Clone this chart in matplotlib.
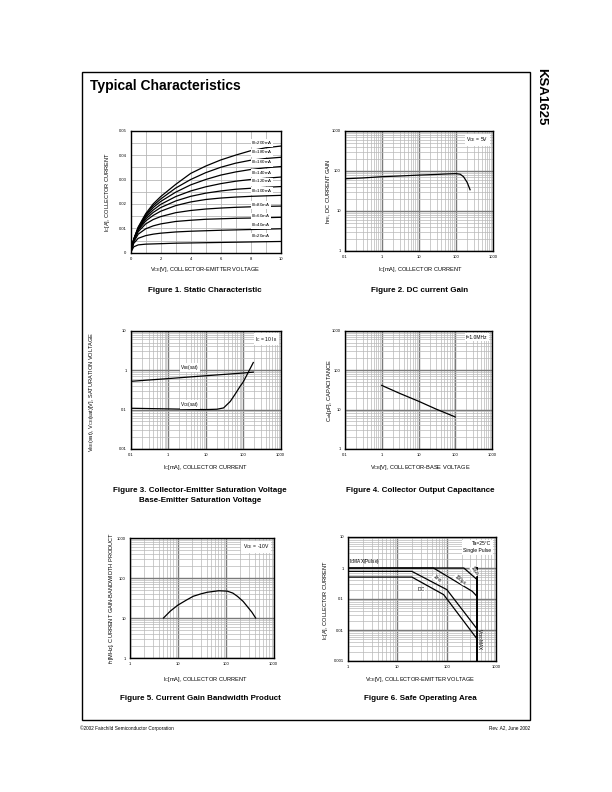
import numpy as np
import matplotlib
matplotlib.use('Agg')
import matplotlib.pyplot as plt
from matplotlib.ticker import FixedLocator, FixedFormatter, LogLocator, NullFormatter

plt.rcParams['font.family'] = ['Liberation Sans', 'DejaVu Sans']
plt.rcParams['mathtext.fontset'] = 'custom'
plt.rcParams['mathtext.rm'] = 'Liberation Sans'
plt.rcParams['mathtext.it'] = 'Liberation Sans'
plt.rcParams['mathtext.bf'] = 'Liberation Sans:bold'

# ---------------- data ----------------
# Figure 1: static characteristic (VCE [V] vs IC [mA]) per base current
vce_pts = [0, 0.2, 0.5, 1, 1.5, 2, 3, 4, 5, 6, 7, 8, 9, 10]
ib_labels = ['200', '180', '160', '140', '120', '100', '80', '60', '40', '20']
ic_200 = [0, 5.5, 10.5, 16, 20, 23, 28, 32.5, 35.5, 38, 40, 41.8, 43, 43.7]
ic_180 = [0, 5.5, 10.3, 15.5, 19.3, 22, 26.5, 30, 32.8, 35, 36.7, 37.9, 38.6, 39.1]
ic_160 = [0, 5.4, 10, 15, 18.5, 21, 24.8, 27.8, 30, 31.8, 33.1, 34.1, 34.8, 35.3]
ic_140 = [0, 5.3, 9.8, 14.5, 17.5, 19.8, 23, 25.3, 27, 28.3, 29.3, 30, 30.5, 31]
ic_120 = [0, 5.2, 9.5, 13.8, 16.5, 18.5, 21.2, 23.1, 24.4, 25.3, 26, 26.4, 26.8, 27.1]
ic_100 = [0, 5.0, 9.2, 13, 15.3, 17, 19.3, 20.8, 21.8, 22.4, 22.8, 23.1, 23.3, 23.5]
ic_80 = [0, 4.8, 8.6, 11.8, 13.6, 14.8, 16.4, 17.3, 17.9, 18.3, 18.6, 18.8, 19.0, 19.1]
ic_60 = [0, 4.4, 7.6, 9.8, 11.0, 11.8, 12.8, 13.3, 13.7, 13.9, 14.1, 14.2, 14.35, 14.5]
ic_40 = [0, 3.8, 5.9, 7.0, 7.6, 8.0, 8.5, 8.8, 9.0, 9.2, 9.35, 9.5, 9.65, 9.8]
ic_20 = [0, 2.4, 3.2, 3.5, 3.6, 3.7, 3.9, 4.0, 4.1, 4.2, 4.3, 4.4, 4.5, 4.6]
ib_label_y = [44.8, 41.0, 36.9, 32.5, 29.1, 25.3, 19.5, 14.8, 11.3, 6.6]

# Figure 2: DC current gain
hfe_ic = [0.1, 0.3, 1, 3, 10, 30, 50, 100, 130, 160, 200, 240]
hfe = [64, 67, 72, 75, 79, 82, 84, 86, 83, 72, 52, 34]

# Figure 3: saturation voltages
vbe_ic = [0.1, 1, 10, 100, 186]
vbe_sat = [0.52, 0.61, 0.72, 0.845, 0.89]
vce_ic = [0.1, 0.3, 1, 3, 10, 20, 30, 45, 60, 83, 100, 126, 150, 186]
vce_sat = [0.108, 0.106, 0.104, 0.102, 0.100, 0.102, 0.11, 0.16, 0.24, 0.39, 0.5, 0.76, 1.05, 1.56]

# Figure 4: output capacitance
cob_v = [1, 3, 10, 30, 100]
cob = [41, 26, 16.3, 10.3, 6.5]

# Figure 5: gain-bandwidth product
ft_ic = [5, 7, 10, 15, 21, 30, 41, 71, 107, 140, 174, 230, 280, 350, 420]
ft = [10, 15, 21, 28, 35, 40, 44, 48, 47, 42, 35, 26, 19.5, 14, 10]

# Figure 6: safe operating area
soa_10us_v = [1, 223, 415]
soa_10us_i = [1, 1, 0.42]
soa_100us_v = [1, 54, 330, 415]
soa_100us_i = [1, 1, 0.177, 0.12]
soa_1ms_v = [1, 19.7, 101, 415]
soa_1ms_i = [0.78, 0.78, 0.2, 0.0107]
soa_dc_v = [1, 19.7, 87, 415]
soa_dc_i = [0.51, 0.51, 0.138, 0.0051]
vceo_max = 415

log_dec_ticks = [0.1, 1, 10, 100, 1000]
log_dec_labels = ['0.1', '1', '10', '100', '1000']

# ---------------- layout ----------------
W, H = 612, 792
fig = plt.figure(figsize=(6.12, 7.92), dpi=100)


def px_axes(l, t, r, b):
    return fig.add_axes([l / W, 1 - b / H, (r - l) / W, (b - t) / H])


def ftext(x, y, s, **kw):
    fig.text(x / W, 1 - y / H, s, **kw)


TICK_FS = 3.0
LAB_FS = 4.1
CAP_FS = 5.8
MAJ = '#7a7a7a'
MIN = '#b8b8b8'


def style_log(ax, xlim, ylim, xt, xl, yt, yl):
    ax.set_xscale('log')
    ax.set_yscale('log')
    ax.set_xlim(*xlim)
    ax.set_ylim(*ylim)
    ax.xaxis.set_major_locator(FixedLocator(xt))
    ax.xaxis.set_major_formatter(FixedFormatter(xl))
    ax.yaxis.set_major_locator(FixedLocator(yt))
    ax.yaxis.set_major_formatter(FixedFormatter(yl))
    ax.xaxis.set_minor_locator(LogLocator(base=10, subs=range(2, 10), numticks=20))
    ax.yaxis.set_minor_locator(LogLocator(base=10, subs=range(2, 10), numticks=20))
    ax.xaxis.set_minor_formatter(NullFormatter())
    ax.yaxis.set_minor_formatter(NullFormatter())
    ax.grid(which='major', color=MAJ, lw=1.0)
    ax.grid(which='minor', color=MIN, lw=0.5)
    ax.tick_params(which='both', length=0, labelsize=TICK_FS, pad=3)
    for s in ax.spines.values():
        s.set_linewidth(1.0)
        s.set_color('black')
    ax.set_axisbelow(True)


# page frame
fig.patches.append(plt.Rectangle((82 / W, 1 - 720 / H), (530 - 82) / W, (720 - 72) / H,
                                 transform=fig.transFigure, fill=False, lw=1.0, ec='black'))
ftext(90, 86, 'Typical Characteristics', fontsize=10, fontweight='bold', va='center', ha='left')
ftext(541, 68, 'KSA1625', fontsize=9.5, fontweight='bold', rotation=-90, va='top', ha='center')
ftext(80, 728, '\u00a92002 Fairchild Semiconductor Corporation', fontsize=3.4, va='center', ha='left')
ftext(530, 728, 'Rev. A2, June 2002', fontsize=3.4, va='center', ha='right')

# ---- Figure 1 ----
ax1 = px_axes(130.7, 130.7, 280.7, 252.7)
curves = [ic_200, ic_180, ic_160, ic_140, ic_120, ic_100, ic_80, ic_60, ic_40, ic_20]
for ic in curves:
    ax1.plot(vce_pts, np.array(ic) / 1000.0, color='black', lw=0.9)
for lab, ly in zip(ib_labels, ib_label_y):
    ax1.text(8.05, ly / 1000.0, 'I$_B$=' + lab + 'mA', fontsize=3.2, va='center', ha='left',
             bbox=dict(boxstyle='square,pad=0.05', fc='white', ec='none'))
ax1.set_xlim(0, 10)
ax1.set_ylim(0, 0.05)
ax1.xaxis.set_major_locator(FixedLocator([0, 2, 4, 6, 8, 10]))
ax1.xaxis.set_major_formatter(FixedFormatter(['0', '2', '4', '6', '8', '10']))
ax1.yaxis.set_major_locator(FixedLocator([0, 0.01, 0.02, 0.03, 0.04, 0.05]))
ax1.yaxis.set_major_formatter(FixedFormatter(['0', '0.01', '0.02', '0.03', '0.04', '0.05']))
ax1.xaxis.set_minor_locator(FixedLocator([1, 3, 5, 7, 9]))
ax1.yaxis.set_minor_locator(FixedLocator([0.005, 0.015, 0.025, 0.035, 0.045]))
ax1.grid(which='both', color=MIN, lw=0.6)
ax1.tick_params(which='both', length=0, labelsize=TICK_FS, pad=3)
for s in ax1.spines.values():
    s.set_linewidth(1.0)
ax1.set_axisbelow(True)
ftext(205, 270, 'V$_{CE}$[V], COLLECTOR-EMITTER VOLTAGE', fontsize=LAB_FS, ha='center', va='center')
ftext(108, 192, 'I$_C$[A], COLLECTOR CURRENT', fontsize=LAB_FS, ha='center', va='center', rotation=90)
ftext(205, 291, 'Figure 1. Static Characteristic', fontsize=CAP_FS, fontweight='bold', ha='center', va='center')

# ---- Figure 2 ----
ax2 = px_axes(345, 131, 493, 251)
style_log(ax2, (0.1, 1000), (1, 1000), log_dec_ticks, log_dec_labels,
          [1, 10, 100, 1000], ['1', '10', '100', '1000'])
ax2.plot(hfe_ic, hfe, color='black', lw=0.9)
ax2.text(0.97, 0.965, 'V$_{CE}$ = 5V', transform=ax2.transAxes, fontsize=3.6, ha='right', va='top',
         bbox=dict(boxstyle='square,pad=0.3', fc='white', ec='none'))
ftext(420, 270, 'I$_C$[mA], COLLECTOR CURRENT', fontsize=LAB_FS, ha='center', va='center')
ftext(329, 191, 'h$_{FE}$, DC CURRENT GAIN', fontsize=LAB_FS, ha='center', va='center', rotation=90)
ftext(420, 291, 'Figure 2. DC current Gain', fontsize=CAP_FS, fontweight='bold', ha='center', va='center')

# ---- Figure 3 ----
ax3 = px_axes(130.7, 330.7, 280.7, 449)
style_log(ax3, (0.1, 1000), (0.01, 10), log_dec_ticks, log_dec_labels,
          [0.01, 0.1, 1, 10], ['0.01', '0.1', '1', '10'])
ax3.plot(vbe_ic, vbe_sat, color='black', lw=0.9)
ax3.plot(vce_ic, vce_sat, color='black', lw=0.9)
ax3.text(3.8, 0.9, 'V$_{BE}$(sat)', fontsize=3.4, ha='center', va='bottom',
         bbox=dict(boxstyle='square,pad=0.05', fc='white', ec='none'))
ax3.text(3.8, 0.104, 'V$_{CE}$(sat)', fontsize=3.4, ha='center', va='bottom',
         bbox=dict(boxstyle='square,pad=0.05', fc='white', ec='none'))
ax3.text(0.98, 0.965, 'I$_C$ = 10 I$_B$', transform=ax3.transAxes, fontsize=3.6, ha='right', va='top',
         bbox=dict(boxstyle='square,pad=0.3', fc='white', ec='none'))
ftext(205, 468, 'I$_C$[mA], COLLECTOR CURRENT', fontsize=LAB_FS, ha='center', va='center')
ftext(92, 392, 'V$_{BE}$(sat), V$_{CE}$(sat)[V], SATURATION VOLTAGE', fontsize=LAB_FS, ha='center',
      va='center', rotation=90)
ftext(200, 491, 'Figure 3. Collector-Emitter Saturation Voltage', fontsize=CAP_FS, fontweight='bold',
      ha='center', va='center')
ftext(200, 501, 'Base-Emitter Saturation Voltage', fontsize=CAP_FS, fontweight='bold', ha='center', va='center')

# ---- Figure 4 ----
ax4 = px_axes(345, 330.7, 492, 449)
style_log(ax4, (0.1, 1000), (1, 1000), log_dec_ticks, log_dec_labels,
          [1, 10, 100, 1000], ['1', '10', '100', '1000'])
ax4.plot(cob_v, cob, color='black', lw=0.9)
ax4.text(0.97, 0.965, 'f=1.0MHz', transform=ax4.transAxes, fontsize=3.6, ha='right', va='top',
         bbox=dict(boxstyle='square,pad=0.3', fc='white', ec='none'))
ftext(420, 468, 'V$_{CB}$[V], COLLECTOR-BASE VOLTAGE', fontsize=LAB_FS, ha='center', va='center')
ftext(329, 390, 'C$_{ob}$[pF], CAPACITANCE', fontsize=LAB_FS, ha='center', va='center', rotation=90)
ftext(420, 491, 'Figure 4. Collector Output Capacitance', fontsize=CAP_FS, fontweight='bold',
      ha='center', va='center')

# ---- Figure 5 ----
ax5 = px_axes(130, 538, 273.7, 658)
style_log(ax5, (1, 1000), (1, 1000), [1, 10, 100, 1000], ['1', '10', '100', '1000'],
          [1, 10, 100, 1000], ['1', '10', '100', '1000'])
ax5.plot(ft_ic, ft, color='black', lw=0.9)
ax5.text(0.97, 0.965, 'V$_{CE}$ = -10V', transform=ax5.transAxes, fontsize=3.6, ha='right', va='top',
         bbox=dict(boxstyle='square,pad=0.3', fc='white', ec='none'))
ftext(205, 679, 'I$_C$[mA], COLLECTOR CURRENT', fontsize=LAB_FS, ha='center', va='center')
ftext(112, 598, 'f$_T$[MHz], CURRENT GAIN-BANDWIDTH PRODUCT', fontsize=LAB_FS, ha='center',
      va='center', rotation=90)
ftext(200, 699, 'Figure 5. Current Gain Bandwidth Product', fontsize=CAP_FS, fontweight='bold',
      ha='center', va='center')

# ---- Figure 6 ----
ax6 = px_axes(348, 537, 496, 661)
style_log(ax6, (1, 1000), (0.001, 10), [1, 10, 100, 1000], ['1', '10', '100', '1000'],
          [0.001, 0.01, 0.1, 1, 10], ['0.001', '0.01', '0.1', '1', '10'])
ax6.plot(soa_10us_v, soa_10us_i, color='black', lw=0.9)
ax6.plot(soa_100us_v, soa_100us_i, color='black', lw=0.9)
ax6.plot(soa_1ms_v, soa_1ms_i, color='black', lw=0.9)
ax6.plot(soa_dc_v, soa_dc_i, color='black', lw=0.9)
ax6.plot([vceo_max, vceo_max], [1, 0.001], color='black', lw=1.4)
ax6.text(1.05, 1.15, 'I$_C$MAX(Pulse)', fontsize=3.4, ha='left', va='bottom')
ax6.text(0.97, 0.965, 'Ta=25\u00b0C\nSingle Pulse', transform=ax6.transAxes, fontsize=3.6,
         ha='right', va='top', linespacing=1.5,
         bbox=dict(boxstyle='square,pad=0.3', fc='white', ec='none'))
ax6.text(31, 0.2, 'DC', fontsize=3.6, ha='center', va='center',
         bbox=dict(boxstyle='square,pad=0.05', fc='white', ec='none'))
ax6.text(63, 0.46, '1ms', fontsize=3.4, ha='center', va='center', rotation=-38,
         bbox=dict(boxstyle='square,pad=0.05', fc='white', ec='none'))
ax6.text(185, 0.42, '100\u00b5s', fontsize=3.4, ha='center', va='center', rotation=-38,
         bbox=dict(boxstyle='square,pad=0.05', fc='white', ec='none'))
ax6.text(370, 0.8, '10\u00b5s', fontsize=3.4, ha='center', va='center', rotation=-55,
         bbox=dict(boxstyle='square,pad=0.05', fc='white', ec='none'))
ax6.text(470, 0.005, 'V$_{CEO}$MAX', fontsize=3.4, ha='center', va='center', rotation=-90)
ftext(420, 679, 'V$_{CE}$[V], COLLECTOR-EMITTER VOLTAGE', fontsize=LAB_FS, ha='center', va='center')
ftext(326, 600, 'I$_C$[A], COLLECTOR CURRENT', fontsize=LAB_FS, ha='center', va='center', rotation=90)
ftext(420, 699, 'Figure 6. Safe Operating Area', fontsize=CAP_FS, fontweight='bold', ha='center', va='center')

fig.savefig('out.png', dpi=100)
